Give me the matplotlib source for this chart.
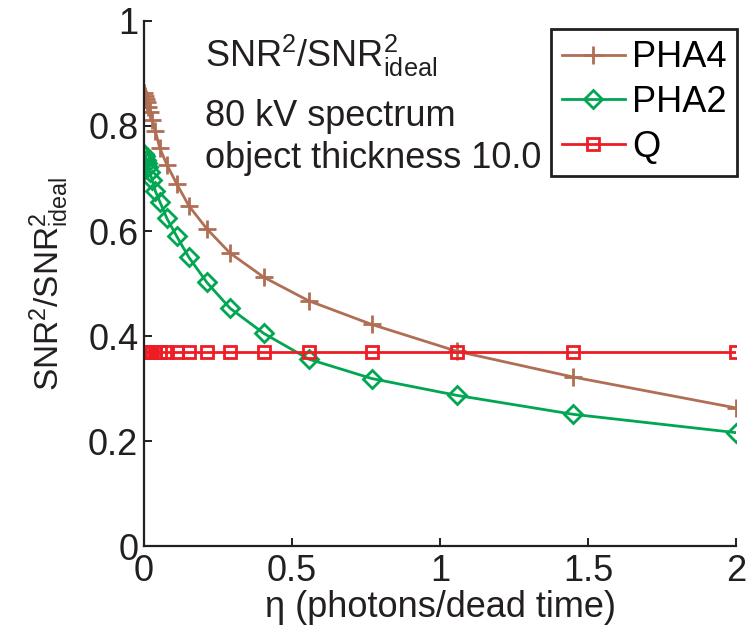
import matplotlib
matplotlib.use("Agg")
import matplotlib.pyplot as plt

plt.rcParams['font.family'] = ['Liberation Sans', 'DejaVu Sans']
plt.rcParams['mathtext.fontset'] = 'custom'
plt.rcParams['mathtext.rm'] = 'Liberation Sans'

# dead time parameter (photons / dead time)
eta = [0.001, 0.004, 0.008, 0.011, 0.015, 0.020, 0.028, 0.039, 0.054, 0.078,
       0.111, 0.152, 0.213, 0.291, 0.405, 0.557, 0.770, 1.057, 1.449, 2.0]

pha4 = [0.863, 0.858, 0.851, 0.845, 0.837, 0.826, 0.812, 0.790, 0.758, 0.726,
        0.690, 0.648, 0.604, 0.558, 0.512, 0.467, 0.422, 0.371, 0.322, 0.263]
pha2 = [0.746, 0.742, 0.736, 0.730, 0.722, 0.713, 0.697, 0.676, 0.656, 0.624,
        0.590, 0.550, 0.502, 0.453, 0.405, 0.356, 0.319, 0.287, 0.251, 0.216]
q = [0.370] * len(eta)

snr_label = r'$\mathregular{SNR^2/SNR^2_{ideal}}$'
txt = '#231F20'

fig = plt.figure(figsize=(7.49, 6.35), dpi=100)
ax = fig.add_axes([0.192, 0.140, 0.791, 0.827])

ax.plot(eta, pha4, color='#B06E55', lw=2.0, marker='+', ms=13, mew=2.0, label='PHA4')
ax.plot(eta, pha2, color='#00A651', lw=2.0, marker='D', ms=9.5, mew=2.0,
        mfc='none', label='PHA2')
ax.plot(eta, q, color='#EE1C25', lw=2.0, marker='s', ms=9, mew=2.0,
        mfc='none', label='Q')

ax.set_xlim(0, 2)
ax.set_ylim(0, 1)
ax.set_xticks([0, 0.5, 1, 1.5, 2])
ax.set_xticklabels(['0', '0.5', '1', '1.5', '2'])
ax.set_yticks([0, 0.2, 0.4, 0.6, 0.8, 1])
ax.set_yticklabels(['0', '0.2', '0.4', '0.6', '0.8', '1'])
ax.tick_params(direction='in', length=6, width=1.4, labelsize=26,
               colors=txt)
ax.tick_params(axis='x', pad=6)
ax.tick_params(axis='y', pad=4)
for s in ['top', 'right']:
    ax.spines[s].set_visible(False)
for s in ['left', 'bottom']:
    ax.spines[s].set_linewidth(1.6)
    ax.spines[s].set_color(txt)

ax.set_xlabel('η (photons/dead time)', fontsize=26, labelpad=0.5, color=txt)
ax.set_ylabel(snr_label, fontsize=24, labelpad=12, color=txt)

ax.text(0.206, 0.912, snr_label, fontsize=26, color=txt, zorder=1)
ax.text(0.206, 0.800, '80 kV spectrum', fontsize=26, color=txt, zorder=1)
ax.text(0.206, 0.720, 'object thickness 10.0', fontsize=26, color=txt, zorder=1)

leg = ax.legend(loc='upper right', bbox_to_anchor=(1.002, 0.984),
                fontsize=26, frameon=True, fancybox=False,
                edgecolor=txt, handlelength=1.75, handletextpad=0.2,
                borderpad=0.3, labelspacing=0.27, borderaxespad=0,
                framealpha=1)
leg.get_frame().set_linewidth(2.0)
leg.set_zorder(5)

fig.savefig('out.png', dpi=100)
